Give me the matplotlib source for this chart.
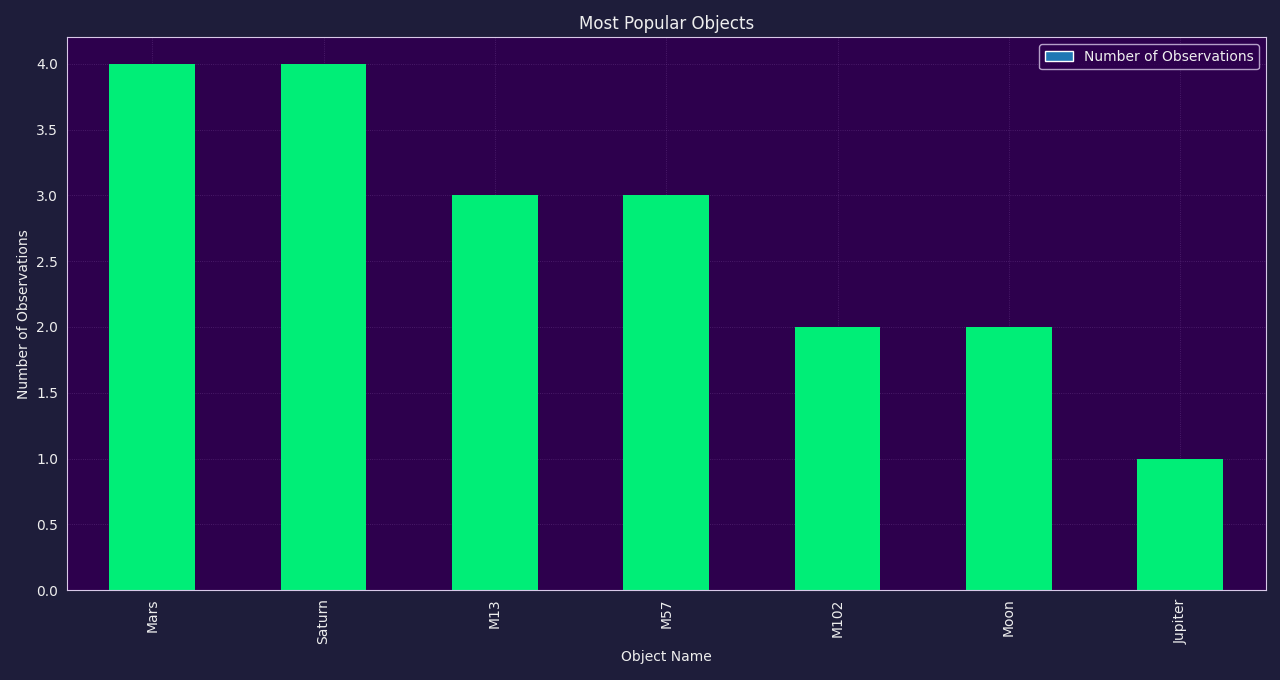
import matplotlib
matplotlib.use("Agg")
import matplotlib.pyplot as plt
from matplotlib.patches import Patch

objects = ["Mars", "Saturn", "M13", "M57", "M102", "Moon", "Jupiter"]
counts = [4, 4, 3, 3, 2, 2, 1]

fig_bg = "#1e1d3a"
ax_bg = "#2d004d"
bar_color = "#00ee77"
text_color = "#eeeeee"
spine_color = "#d8c8e8"

fig, ax = plt.subplots(figsize=(12.8, 6.8), dpi=100)
fig.patch.set_facecolor(fig_bg)
ax.set_facecolor(ax_bg)

x = range(len(objects))
ax.bar(x, counts, width=0.5, color=bar_color)
ax.set_xticks(list(x))
ax.set_xticklabels(objects, rotation=90)
ax.set_xlim(-0.5, len(objects) - 0.5)
ax.set_ylim(0, 4.2)

ax.set_title("Most Popular Objects", color=text_color, fontsize=12)
ax.set_xlabel("Object Name", color=text_color)
ax.set_ylabel("Number of Observations", color=text_color)
ax.tick_params(colors=text_color, length=0, pad=6)
for s in ax.spines.values():
    s.set_color(spine_color)
ax.grid(True, color="#6a3a8a", linestyle=":", linewidth=0.6, alpha=0.6)
ax.set_axisbelow(True)

handle = Patch(facecolor="#1f77b4", edgecolor="white", label="Number of Observations")
leg = ax.legend(handles=[handle], loc="upper right", facecolor=ax_bg,
                edgecolor=spine_color, labelcolor=text_color)

fig.subplots_adjust(left=0.052, right=0.989, top=0.945, bottom=0.132)
fig.savefig("out.png", dpi=100, facecolor=fig_bg)
